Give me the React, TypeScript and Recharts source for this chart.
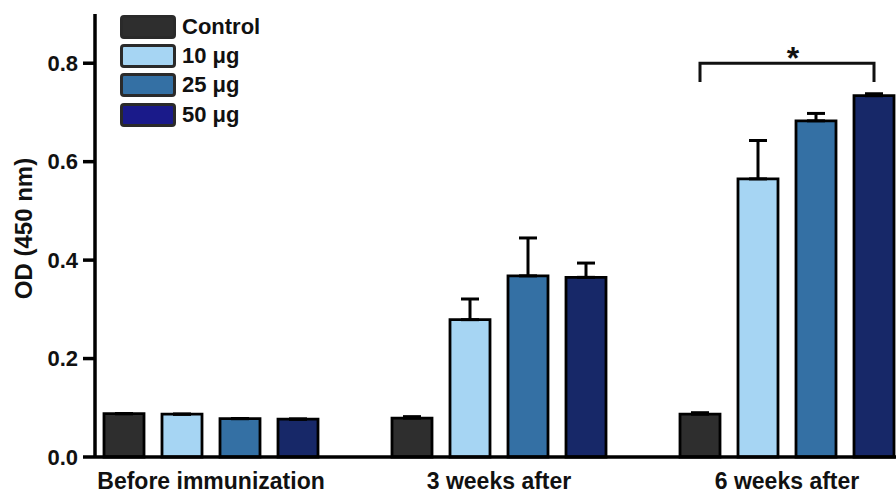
import React from 'react';
import { BarChart, Bar, XAxis, YAxis, ErrorBar, Legend, Label } from 'recharts';

const categories = ['Before immunization', '3 weeks after', '6 weeks after'];
const seriesNames = ['Control', '10 μg', '25 μg', '50 μg'];
const control = [0.088, 0.079, 0.087];
const ug10 = [0.087, 0.279, 0.565];
const ug25 = [0.078, 0.368, 0.683];
const ug50 = [0.077, 0.365, 0.734];
const controlErr = [0, 0.003, 0.003];
const ug10Err = [0, 0.042, 0.078];
const ug25Err = [0, 0.077, 0.015];
const ug50Err = [0, 0.029, 0.004];
const yTicks = [0, 0.2, 0.4, 0.6, 0.8];
const barColors = ['#2e2e2e', '#a6d5f3', '#3470a4', '#172868'];
const legendColors = ['#2e2e2e', '#a6d5f3', '#3470a4', '#1a1a8a'];
const sigGroupIndex = 2;
const sigBracketLevel = 0.8;
const sigBracketEnd = 0.762;
const sigLabel = '*';

const keys = ['c', 'u10', 'u25', 'u50'];
const errKeys = ['ce', 'u10e', 'u25e', 'u50e'];
const values = [control, ug10, ug25, ug50];
const errs = [controlErr, ug10Err, ug25Err, ug50Err];

const data = categories.map((cat, i) => {
  const row: any = { cat };
  keys.forEach((k, s) => {
    row[k] = values[s][i];
    row[errKeys[s]] = [0, errs[s][i]];
  });
  return row;
});

const FONT = '"Liberation Sans", Arial, sans-serif';
const BAR_SIZE = 40;
const BAR_GAP = 18;

const renderLegend = () => (
  <div style={{ fontFamily: FONT }}>
    {seriesNames.map((n, i) => (
      <div key={n} style={{ display: 'flex', alignItems: 'center', height: 29.3 }}>
        <div
          style={{
            width: 50,
            height: 18,
            background: legendColors[i],
            border: '3px solid #2a2a2a',
            borderRadius: 4,
            marginRight: 6,
          }}
        />
        <span style={{ fontSize: 22, fontWeight: 'bold', color: '#111' }}>{n}</span>
      </div>
    ))}
  </div>
);

const BracketLabel = (props: any) => {
  const { index } = props;
  if (index !== sigGroupIndex) return null;
  const vb = props.viewBox ?? props;
  const { x, y, width, height } = vb;
  const v = ug50[index];
  const ppu = height / v;
  const bottom = y + height;
  const right = x + width / 2;
  const left = right - 3 * (BAR_SIZE + BAR_GAP);
  const yb = bottom - sigBracketLevel * ppu;
  const ye = bottom - sigBracketEnd * ppu;
  return (
    <g>
      <path
        d={`M${left},${ye} L${left},${yb} L${right},${yb} L${right},${ye}`}
        fill="none"
        stroke="#111"
        strokeWidth={3}
      />
      <text
        x={(left + right) / 2 + 6}
        y={yb + 6}
        textAnchor="middle"
        fontFamily={FONT}
        fontWeight="bold"
        fontSize={32}
        fill="#111"
      >
        {sigLabel}
      </text>
    </g>
  );
};

const YLabel = (props: any) => {
  const vb = props.viewBox;
  const cx = 32;
  const cy = vb.y + vb.height / 2 - 7;
  return (
    <text
      x={cx}
      y={cy}
      transform={`rotate(-90 ${cx} ${cy})`}
      textAnchor="middle"
      fontFamily={FONT}
      fontWeight="bold"
      fontSize={24}
      fill="#111"
    >
      OD (450 nm)
    </text>
  );
};

export default function App() {
  return (
    <div style={{ position: 'absolute', left: 0, top: 0, background: '#fff' }}>
      <BarChart
        width={896}
        height={495}
        data={data}
        margin={{ top: 14, right: 0, bottom: 0, left: 0 }}
        barSize={BAR_SIZE}
        barGap={BAR_GAP}
      >
        <XAxis
          dataKey="cat"
          padding={{ left: -28, right: -35 }}
          axisLine={{ stroke: '#000', strokeWidth: 3.5 }}
          tickLine={false}
          tickSize={0}
          tickMargin={16}
          height={38}
          tick={{ fill: '#111', fontSize: 23, fontWeight: 'bold', fontFamily: FONT }}
          interval={0}
        />
        <YAxis
          domain={[0, 0.9]}
          ticks={yTicks}
          tickFormatter={(v: number) => v.toFixed(1)}
          width={95}
          axisLine={{ stroke: '#000', strokeWidth: 3.5 }}
          tickLine={{ stroke: '#000', strokeWidth: 3.5 }}
          tickSize={12}
          tickMargin={5}
          tick={{ fill: '#111', fontSize: 22, fontWeight: 'bold', fontFamily: FONT }}
        >
          <Label content={YLabel} />
        </YAxis>
        <Legend
          content={renderLegend}
          layout="vertical"
          align="center"
          verticalAlign="middle"
          wrapperStyle={{ left: 120, top: 12, width: 200 }}
        />
        {keys.map((k, s) => (
          <Bar
            key={k}
            dataKey={k}
            fill={barColors[s]}
            stroke="#000"
            strokeWidth={2.8}
            isAnimationActive={false}
            label={s === 3 ? BracketLabel : undefined}
          >
            <ErrorBar dataKey={errKeys[s]} width={9} stroke="#000" strokeWidth={3} direction="y" />
          </Bar>
        ))}
      </BarChart>
    </div>
  );
}
